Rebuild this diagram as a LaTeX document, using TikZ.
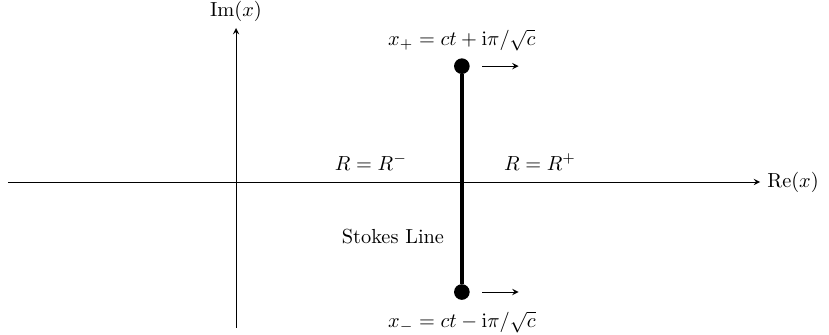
\documentclass[tikz,border=0pt]{standalone}
\usepackage{amsmath}
\usetikzlibrary{calc,arrows.meta}

\begin{document}
\begin{tikzpicture}[scale=1.0, >=stealth]
\useasboundingbox (-4.076,-2.642) rectangle (10.24,3.143);
% axes
\coordinate (O) at (0,0);
\coordinate (xl) at (-3.94,0);
\coordinate (xr) at (9.05,0);
\coordinate (yb) at (0,-2.52);
\coordinate (yt) at (0,2.66);
\draw[->] (xl) -- (xr) node[right] (re) {$\mathrm{Re}(x)$};
\draw[->] (yb) -- (yt);
\node (im) at (0,2.94) {$\mathrm{Im}(x)$};

% Stokes line between the two singularities
\node[circle, fill=black, inner sep=0pt, minimum size=0.27cm] (xp) at (3.90,2.0) {};
\node[circle, fill=black, inner sep=0pt, minimum size=0.27cm] (xm) at (3.90,-1.9) {};
\draw[line width=2pt] (xp) -- (xm);
\coordinate (ps) at (4.25,2.0);
\coordinate (pe) at (4.88,2.0);
\coordinate (ms) at (4.25,-1.9);
\coordinate (me) at (4.88,-1.9);
\draw[->] (ps) -- (pe);
\draw[->] (ms) -- (me);

\node (lp) at (3.90,2.45) {$x_+ = ct + \mathrm{i}\pi/\sqrt{c}$};
\node (lm) at (3.90,-2.42) {$x_- = ct - \mathrm{i}\pi/\sqrt{c}$};
\node (rm) at (2.33,0.345) {$R = R^-$};
\node (rp) at (5.25,0.345) {$R = R^+$};
\node (st) at (2.71,-0.95) {Stokes Line};
\end{tikzpicture}
\end{document}
